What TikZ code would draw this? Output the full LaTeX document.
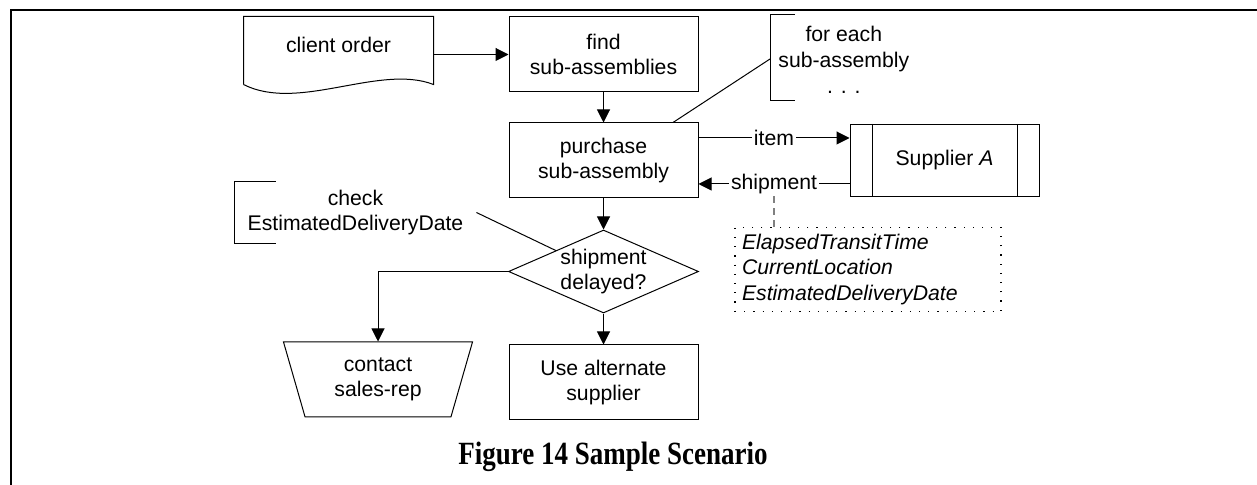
\documentclass[tikz,border=0pt]{standalone}
\usepackage{fontspec}
\setmainfont{Liberation Sans}
\newfontfamily\captionserif{Liberation Serif}
\usetikzlibrary{positioning, arrows.meta, shapes.geometric}

\begin{document}
\begin{tikzpicture}[
    x=0.5pt, y=-0.5pt,
    every node/.style={align=center, font=\fontsize{10.6}{12.5}\selectfont},
    box/.style={rectangle, draw, line width=0.5pt, minimum width=94.5pt, minimum height=37.5pt, inner sep=0pt},
    arrow/.style={-{Triangle[length=6.5pt, width=6.5pt]}, line width=0.5pt},
    lead/.style={line width=0.5pt},
    tag/.style={fill=white, inner sep=1pt},
    dotbox/.style={draw, line width=0.6pt, dash pattern=on 0.6pt off 4pt, minimum width=133pt, minimum height=41.5pt, text width=126pt, inner xsep=3.5pt, align=left, font=\fontsize{10.6}{12.75}\selectfont\itshape}
]
\useasboundingbox (0,0) rectangle (1257,485);
\draw[line width=1pt] (1257,10) -- (11,10) -- (11,485);

% main flow
\node[box] (find) at (603.5,54.5) {find\\sub-assemblies};
\node[box] (purchase) [below=15pt of find] {purchase\\sub-assembly};
\node[box, draw=none, minimum height=33.5pt, text depth=5.5pt] (order) [left=37.5pt of find, yshift=2pt] {client order};
\node[box, minimum height=36pt] (supplier) [right=75.5pt of purchase] {Supplier \textit{A}};
\node[diamond, draw, line width=0.5pt, aspect=2.29, inner sep=0pt, minimum width=95pt, minimum height=41.5pt] (delayed) [below=15.5pt of purchase] {shipment\\delayed?};
\node[box] (alternate) [below=15.5pt of delayed] {Use alternate\\supplier};
\node[trapezium, draw, line width=0.5pt, shape border rotate=180, trapezium angle=63.4, trapezium stretches body, minimum width=94.5pt, minimum height=37.5pt, inner sep=0pt] (contact) at (378,379.5) {contact\\sales-rep};
\node[dotbox] (attrs) at (868,269.5) {ElapsedTransitTime\\CurrentLocation\\EstimatedDeliveryDate};

% annotations
\node[anchor=west, inner xsep=4pt, inner ysep=0pt, font=\fontsize{10.6}{13}\selectfont] (loopnote) at (770,60) {for each\\sub-assembly\\. . .};
\node[minimum width=120.5pt, minimum height=30.5pt, inner sep=0pt] (checknote) at (355.5,212.5) {check\\EstimatedDeliveryDate};

% shapes
\draw[lead] (order.south west) -- (order.north west) -- (order.north east) -- (order.south east) .. controls +(-54,-21) and +(55,28) .. (order.south west);
\draw[lead] ([xshift=11.5pt]supplier.north west) -- ([xshift=11.5pt]supplier.south west);
\draw[lead] ([xshift=-11pt]supplier.north east) -- ([xshift=-11pt]supplier.south east);
\draw[lead] ([shift={(12.5pt,22.5pt)}]loopnote.west) -- ([yshift=22.5pt]loopnote.west) -- ([yshift=-20.5pt]loopnote.west) -- ([shift={(12.5pt,-20.5pt)}]loopnote.west);
\draw[lead] ([xshift=20.5pt]checknote.north west) -- (checknote.north west) -- (checknote.south west) -- ([xshift=20.5pt]checknote.south west);

% connectors
\coordinate (itemout) at ([yshift=11.25pt]purchase.east);
\coordinate (shipin) at ([yshift=-11.75pt]purchase.east);
\coordinate (loopfoot) at ([yshift=0.5pt]loopnote.west);
\draw[arrow] (order.east |- find.west) -- (find.west);
\draw[arrow] (find) -- (purchase);
\draw[arrow] (itemout) -- node[tag] {item} (itemout -| supplier.west);
\draw[arrow] (shipin -| supplier.west) -- node[tag] (shiplabel) {shipment} (shipin);
\draw[arrow] (purchase) -- (delayed);
\draw[arrow] (delayed) -- (alternate);
\draw[arrow] (delayed.west) -| (contact.north);
\draw[dashed, gray, line width=0.6pt, dash pattern=on 3.5pt off 2.5pt] (shiplabel.south) -- (shiplabel.south |- attrs.north);
\draw[lead] (loopfoot) -- ([xshift=34.75pt]purchase.north);
\draw[lead] (checknote.east) -- (delayed.north west);

\node[font=\captionserif\bfseries\fontsize{13.5}{16}\selectfont] (caption) at (613,457) {\scalebox{1}[1.2]{Figure 14 Sample Scenario}};
\end{tikzpicture}
\end{document}
